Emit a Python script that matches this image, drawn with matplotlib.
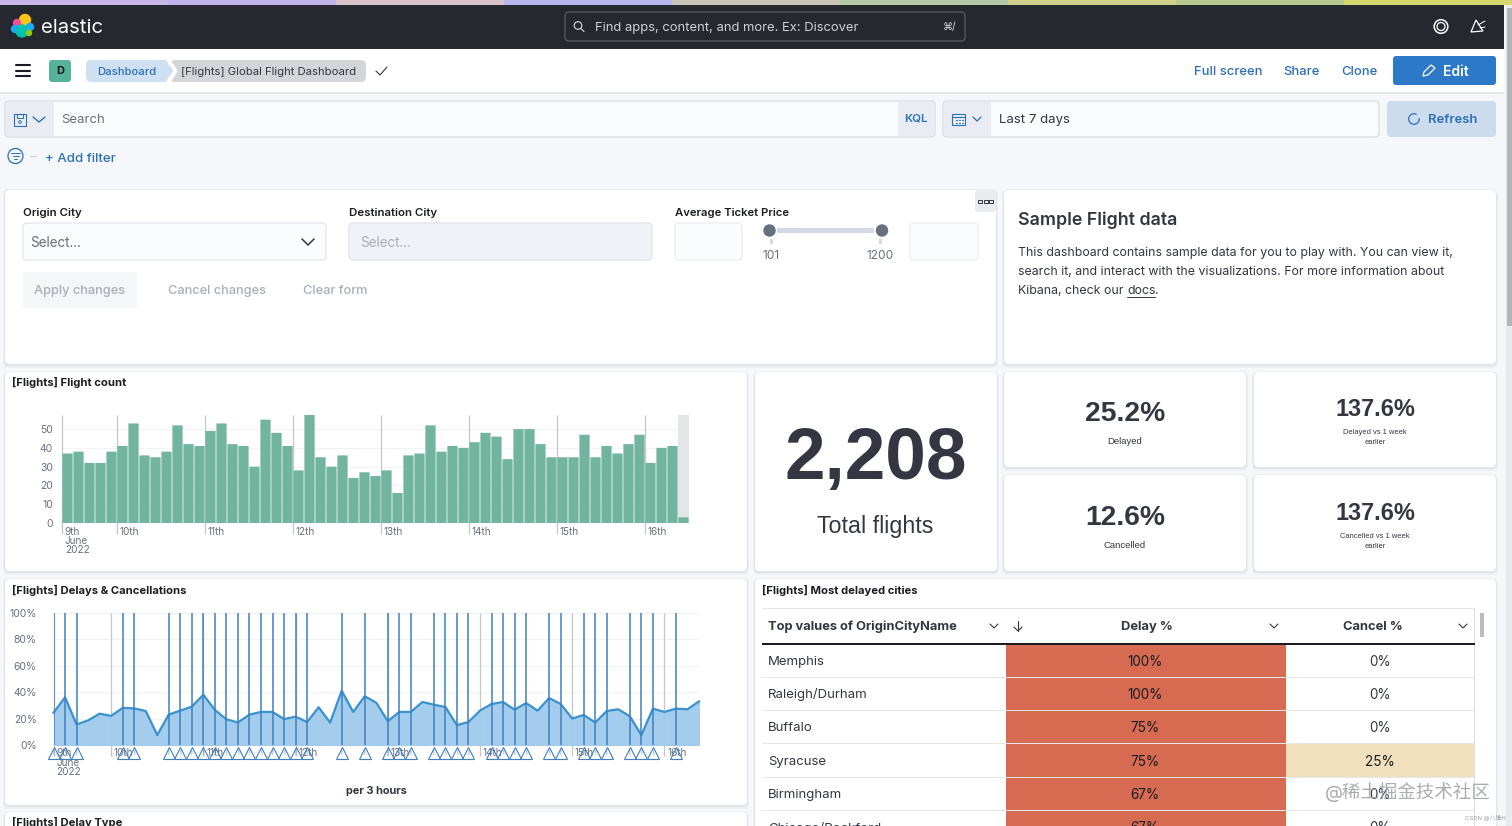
import matplotlib
matplotlib.use("Agg")
import matplotlib.pyplot as plt
from matplotlib.patches import FancyBboxPatch, Rectangle, Circle, Polygon, Arc

plt.rcParams['font.family'] = ['Inter', 'Noto Sans CJK SC', 'DejaVu Sans']

# flights per 3 hours
flight_counts = [37, 38, 32, 32, 38,
                 41, 53, 36, 35, 38, 52, 42, 41,
                 49, 53, 42, 41, 30, 55, 48, 41,
                 28, 58, 35, 30, 36, 24, 27, 25,
                 28, 16, 36, 37, 52, 38, 41, 40,
                 43, 48, 46, 34, 50, 50, 42, 35,
                 35, 35, 47, 35, 41, 37, 42, 47,
                 32, 40, 41, 3]
flight_ticks = [0, 10, 20, 30, 40, 50]

# delay percentage per 3 hours
delay_pct = [24.4, 36, 15.6, 18.6, 23.7, 22, 28, 27.7, 25.7, 7.5,
             23, 26, 29, 38, 26.5, 19.4, 17, 23, 25, 25,
             19.6, 21.4, 17.4, 28.5, 17, 41, 25, 36.8, 32, 18,
             25, 25, 32.5, 30.5, 28.7, 15, 17.4, 26, 31, 32.5,
             26.7, 31.7, 26, 35.5, 31, 20, 22.7, 17, 25.7, 27,
             21.7, 7.5, 27.5, 25, 27.5, 27, 33]
alert_idx = [0, 1, 2, 6, 7, 10, 11, 12, 13, 14, 15, 16, 17, 18, 19, 20, 21, 22,
             25, 27, 29, 30, 31, 33, 34, 35, 36, 38, 39, 40, 41, 43, 44, 46, 47,
             48, 50, 51, 52, 54]
pct_ticks = [0, 20, 40, 60, 80, 100]

day_idx = [0, 5, 13, 21, 29, 37, 45, 53]
day_labels = ['9th', '10th', '11th', '12th', '13th', '14th', '15th', '16th']

cities = ['Memphis', 'Raleigh/Durham', 'Buffalo', 'Syracuse', 'Birmingham', 'Chicago/Rockford']
city_delay = ['100%', '100%', '75%', '75%', '67%', '67%']
city_cancel = ['0%', '0%', '0%', '25%', '0%', '0%']

W, H = 1512, 826
BLUE = '#2C6FB5'
GREY = '#69707D'
DARK = '#343741'
HV = 'Liberation Sans'

fig = plt.figure(figsize=(W / 100, H / 100), dpi=100, facecolor='#F5F7FB')
page = fig.add_axes([0, 0, 1, 1])
page.set_xlim(0, W)
page.set_ylim(H, 0)
page.axis('off')


def t(x, y, s, size=13, color=DARK, weight='normal', ha='left', family=None, **kw):
    # size is given in pixels of the picture
    if family:
        kw['family'] = family
    elif size >= 11.3:
        y += 1  # Inter sits a little high with va=center
    return page.text(x, y, s, fontsize=size * 0.72, color=color, weight=weight,
                     ha=ha, va='center', **kw)


def rect(x0, y0, x1, y1, color, z=1, **kw):
    page.add_patch(Rectangle((x0, y0), x1 - x0, y1 - y0, facecolor=color, edgecolor='none', zorder=z, **kw))


def rbox(x0, y0, x1, y1, color, r=4, edge='none', z=1, lw=1):
    page.add_patch(FancyBboxPatch((x0 + r, y0 + r), x1 - x0 - 2 * r, y1 - y0 - 2 * r,
                                  boxstyle='round,pad=%d,rounding_size=%d' % (r, r),
                                  facecolor=color, edgecolor=edge, linewidth=lw, zorder=z))


def card(x0, y0, x1, y1):
    rbox(x0 - 2, y0 - 1, x1 + 2, y1 + 4, '#ECEEF2', r=6, z=1)
    rbox(x0 - 1, y0 + 1, x1 + 1, y1 + 2, '#E1E4E9', r=5, z=1)
    rbox(x0, y0, x1, y1, 'white', r=5, z=2)


def line(xs, ys, color=DARK, lw=1, z=5):
    page.plot(xs, ys, color=color, lw=lw, zorder=z, solid_capstyle='round')


# wallpaper strip, dark bar, white bar
strip = ['#C9B6E8', '#BFB2EA', '#D9C2C8', '#B8B4EE', '#C8C4B8', '#B4C8A8', '#CFD08A', '#B7C98E', '#D5D66E']
for i, c in enumerate(strip):
    rect(i * W / len(strip), 0, (i + 1) * W / len(strip), 5, c)
rect(0, 5, 1504, 49, '#25282F', z=2)
rect(0, 49, 1504, 92, 'white', z=2)
rect(0, 92, 1504, 94, '#E4E7EC', z=2)
rect(1506, 5, 1512, 826, '#E9EAEC', z=2)
rect(1507, 8, 1512, 326, '#B3B5B9', z=3)

# logo
for cx, cy, r, c in [(25, 20, 5.5, '#FEC514'), (17, 23, 3.5, '#F04E98'), (30, 27, 3.5, '#1BA9F5'),
                     (15, 29, 3.5, '#1BA9F5'), (22, 31, 6, '#00BFB3'), (29, 33, 2.5, '#93C90E')]:
    page.add_patch(Circle((cx, cy), r, color=c, zorder=4))
t(41, 27, 'elastic', 20.3, 'white', zorder=4)

# global search
rbox(565, 12, 965, 41, '#25282F', r=4, edge='#5E6269', z=3, lw=0.8)
page.add_patch(Circle((578, 25.5), 3.8, facecolor='none', edgecolor='#DDDDDD', lw=0.8, zorder=4))
line([581, 584], [28.5, 31.5], '#DDDDDD', 0.8)
t(595, 26.5, 'Find apps, content, and more. Ex: Discover', 13, '#CFD1D6', zorder=4)
t(943, 27, '⌘/', 10, '#DDDDDD', zorder=4)
page.add_patch(Circle((1441, 26.5), 6.8, facecolor='none', edgecolor='white', lw=1.1, zorder=4))
page.add_patch(Circle((1441, 26.5), 4, facecolor='none', edgecolor='white', lw=0.9, zorder=4))
page.add_patch(Polygon([(1471, 32), (1476, 20), (1483, 31)], closed=True, facecolor='none',
                       edgecolor='white', lw=0.9, zorder=4))
line([1478, 1485], [25, 21], 'white', 0.7)
line([1480, 1485], [28, 27], 'white', 0.7)

# breadcrumb row
for y in (65, 70.5, 76):
    line([16, 30], [y, y], '#1A1C21', 1.5)
rbox(49, 60, 71, 82, '#54B399', r=3, z=3)
t(60, 71, 'D', 11, '#111111', 'bold', ha='center', zorder=4)
rbox(86, 60, 168, 82, '#CFE0F2', r=5, z=3)
rbox(170, 60, 366, 82, '#D3D5D9', r=5, z=3)
page.add_patch(Polygon([(165, 60), (172, 71), (165, 82)], color='#CFE0F2', zorder=6))
page.add_patch(Polygon([(167, 60), (170, 60), (177, 71), (170, 82), (167, 82), (174, 71)], color='white', zorder=6))
t(97, 71, 'Dashboard', 11.3, BLUE, 'medium', zorder=7)
t(181, 71, '[Flights] Global Flight Dashboard', 11.3, DARK, zorder=7)
line([376, 380, 387], [71, 75, 67], DARK, 0.8)
t(1228, 71, 'Full screen', 13, BLUE, 'medium', ha='center', zorder=4)
t(1301.5, 71, 'Share', 13, BLUE, 'medium', ha='center', zorder=4)
t(1359.5, 71, 'Clone', 13, BLUE, 'medium', ha='center', zorder=4)
rbox(1393, 56, 1496, 85, '#2C7AC7', r=3, z=3)
page.add_patch(Polygon([(1423, 76), (1424, 72), (1431, 65), (1435, 68), (1428, 75)], closed=True, facecolor='none',
                       edgecolor='white', lw=0.9, zorder=4))
t(1455.5, 71, 'Edit', 14, 'white', 'semibold', ha='center', zorder=4)

# query bar
rbox(5, 101, 935, 137, '#FBFCFD', r=4, edge='#D9DEE6', z=2)
rect(6, 102, 54, 136, '#E9EDF3', z=3)
rect(898, 102, 934, 136, '#E9EDF3', z=3)
page.add_patch(Rectangle((14, 114), 12, 12, facecolor='none', edgecolor=BLUE, lw=0.8, zorder=4))
page.add_patch(Circle((20, 122), 1.3, facecolor='none', edgecolor=BLUE, lw=0.7, zorder=4))
line([17, 17, 23, 23], [114, 117.5, 117.5, 114], BLUE, 0.7)
line([33, 39, 45], [117, 122, 117], BLUE, 1)
t(61, 119, 'Search', 13.2, GREY, zorder=4)
t(916, 118, 'KQL', 11.5, BLUE, 'semibold', ha='center', zorder=4)
rbox(943, 101, 1379, 137, '#FBFCFD', r=4, edge='#D9DEE6', z=2)
rect(944, 102, 991, 136, '#E9EDF3', z=3)
page.add_patch(Rectangle((952, 114), 13, 11, facecolor='none', edgecolor=BLUE, lw=0.8, zorder=4))
line([952, 965], [117, 117], BLUE, 0.8)
for x in (955.5, 958.5, 961.5):
    line([x, x + 1.5], [120, 120], BLUE, 0.8)
    line([x, x + 1.5], [122.5, 122.5], BLUE, 0.8)
line([973, 977, 981], [117, 121, 117], BLUE, 0.9)
t(999, 119, 'Last 7 days', 13.2, DARK, zorder=4)
rbox(1387, 101, 1496, 137, '#CCDCEE', r=4, z=3)
page.add_patch(Arc((1414, 119), 10.5, 10.5, theta1=-10, theta2=300, edgecolor=BLUE, lw=0.9, zorder=4))
t(1452.5, 119, 'Refresh', 13, BLUE, 'semibold', ha='center', zorder=4)
page.add_patch(Circle((15.5, 156), 7.5, facecolor='none', edgecolor=BLUE, lw=0.9, zorder=4))
for y, hw in ((153, 4.5), (156, 3), (159, 1.5)):
    line([15.5 - hw, 15.5 + hw], [y, y], BLUE, 0.7)
line([30, 36], [155.5, 155.5], '#D3DAE6', 1)
t(45, 158, '+ Add filter', 13.2, BLUE, 'medium', zorder=4)

# controls card
card(5, 190, 996, 364)
t(23, 212, 'Origin City', 11.5, '#1A1C21', 'semibold', zorder=4)
rbox(23, 223, 326, 260, '#FBFCFD', r=4, edge='#E6E9EF', z=3)
t(30, 242, 'Select...', 13.5, GREY, zorder=4)
line([302, 308, 314], [239, 245, 239], DARK, 1.1)
t(349, 212, 'Destination City', 11.5, '#1A1C21', 'semibold', zorder=4)
rbox(349, 223, 652, 260, '#EFF2F6', r=4, edge='#E1E5EB', z=3)
t(360, 242, 'Select...', 13.5, '#A9AEB8', zorder=4)
t(675, 212, 'Average Ticket Price', 11.3, '#1A1C21', 'semibold', zorder=4)
rbox(675, 223, 742, 260, '#FBFCFD', r=4, edge='#EDEFF3', z=3)
rbox(910, 223, 978, 260, '#FBFCFD', r=4, edge='#EDEFF3', z=3)
rect(777, 228, 874, 233, '#D3DAE6', z=3)
page.add_patch(Circle((769.5, 230.5), 5.5, color='#69707D', zorder=4))
page.add_patch(Circle((882, 230.5), 5.5, color='#69707D', zorder=4))
rect(770, 239, 773, 244, '#D3DAE6', z=3)
rect(879, 239, 882, 244, '#D3DAE6', z=3)
t(771, 255, '101', 12, GREY, ha='center', zorder=4)
t(880.5, 255, '1200', 12, GREY, ha='center', zorder=4)
rbox(975, 190, 996, 212, '#E9EBEF', r=3, z=3)
for x in (980, 985.5, 991):
    page.add_patch(Rectangle((x - 2, 199.5), 4, 3.5, facecolor='none', edgecolor=DARK, lw=0.7, zorder=4))
rbox(23, 272, 137, 308, '#F5F6F8', r=3, z=3)
t(80, 290, 'Apply changes', 12.8, '#A9AEB8', 'medium', ha='center', zorder=4)
t(216.5, 290, 'Cancel changes', 12.8, '#A9AEB8', 'medium', ha='center', zorder=4)
t(335.5, 290, 'Clear form', 12.8, '#A9AEB8', 'medium', ha='center', zorder=4)

# markdown card
card(1004, 190, 1496, 364)
t(1018, 219, 'Sample Flight data', 17.8, DARK, 'semibold', zorder=4)
t(1018, 252, 'This dashboard contains sample data for you to play with. You can view it,', 12.35, DARK, zorder=4)
t(1018, 271, 'search it, and interact with the visualizations. For more information about', 12.35, DARK, zorder=4)
t(1018, 290, 'Kibana, check our', 12.35, DARK, zorder=4)
t(1127, 290, 'docs', 12.35, DARK, zorder=4)
line([1127, 1155], [296.5, 296.5], DARK, 0.7)
t(1155, 290, '.', 12.35, DARK, zorder=4)

# metric cards
card(755, 372, 997, 571)
card(1004, 372, 1246, 467)
card(1254, 372, 1496, 467)
card(1004, 475, 1246, 571)
card(1254, 475, 1496, 571)
t(875.5, 460, '2,208', 73, DARK, 'bold', ha='center', family=HV, zorder=4)
t(875.5, 527, 'Total flights', 23.3, DARK, ha='center', family=HV, zorder=4)
t(1125, 414, '25.2%', 28.3, DARK, 'bold', ha='center', family=HV, zorder=4)
t(1125, 441, 'Delayed', 9.5, DARK, ha='center', family=HV, zorder=4)
t(1375, 410, '137.6%', 23.5, DARK, 'bold', ha='center', family=HV, zorder=4)
t(1375, 432, 'Delayed vs 1 week', 7.5, DARK, ha='center', family=HV, zorder=4)
t(1375, 443, 'earlier', 7.5, DARK, ha='center', family=HV, zorder=4)
t(1125, 518, '12.6%', 28.3, DARK, 'bold', ha='center', family=HV, zorder=4)
t(1125, 545, 'Cancelled', 9.5, DARK, ha='center', family=HV, zorder=4)
t(1375, 514, '137.6%', 23.5, DARK, 'bold', ha='center', family=HV, zorder=4)
t(1375, 536, 'Cancelled vs 1 week', 7.5, DARK, ha='center', family=HV, zorder=4)
t(1375, 547, 'earlier', 7.5, DARK, ha='center', family=HV, zorder=4)

# chart cards
card(5, 372, 747, 571)
card(5, 579, 747, 805)
card(5, 812, 747, 840)
card(755, 579, 1496, 840)
t(12, 382, '[Flights] Flight count', 11.2, '#1A1C21', 'bold', zorder=4)
t(12, 590, '[Flights] Delays & Cancellations', 11.2, '#1A1C21', 'bold', zorder=4)
t(12, 822, '[Flights] Delay Type', 11.2, '#1A1C21', 'bold', zorder=4)
t(762, 590, '[Flights] Most delayed cities', 11.2, '#1A1C21', 'bold', zorder=4)
t(376, 791, 'per 3 hours', 11, DARK, 'bold', ha='center', zorder=4)


def chart_axes(x0, y0, x1, y1):
    ax = fig.add_axes([x0 / W, 1 - y1 / H, (x1 - x0) / W, (y1 - y0) / H])
    ax.patch.set_alpha(0)
    for s in ax.spines.values():
        s.set_visible(False)
    ax.tick_params(axis='y', length=0, labelsize=7.5, labelcolor=GREY, pad=6.5)
    ax.tick_params(axis='x', length=0, labelbottom=False)
    ax.set_axisbelow(True)
    ax.grid(axis='y', color='#F1F2F4', lw=0.8)
    return ax


def day_axis(ax, vline_end):
    ax.vlines(day_idx, vline_end, 1, transform=ax.get_xaxis_transform(), color='#C4C6CA', lw=0.9,
              clip_on=False, zorder=1)


def day_labels_under(ax, offsets):
    for i, lab in zip(day_idx, day_labels):
        ax.annotate(lab, xy=(i, 0), xycoords=('data', 'axes fraction'), xytext=(2, offsets[0]),
                    textcoords='offset points', fontsize=7.2, color=GREY, ha='left', va='center', zorder=5)
    ax.annotate('June', xy=(0, 0), xycoords=('data', 'axes fraction'), xytext=(2, offsets[1]),
                textcoords='offset points', fontsize=7.2, color=GREY, ha='left', va='center')
    ax.annotate('2022', xy=(0, 0), xycoords=('data', 'axes fraction'), xytext=(2, offsets[2]),
                textcoords='offset points', fontsize=7.2, color=GREY, ha='left', va='center')


# flight count histogram, one slot is 11 px
bar_x = list(range(len(flight_counts)))
ax1 = chart_axes(62, 415, 689, 523)
ax1.set_xlim(0, len(flight_counts))
ax1.set_ylim(0, 57.5)
ax1.set_yticks(flight_ticks)
ax1.bar(bar_x[-1] + 0.5, 57.5, width=1, color='#E4E5E6', zorder=1)
bars = ax1.bar([i + 0.5 for i in bar_x], flight_counts, width=0.93, color='#6DB39B', zorder=2, alpha=0.97)
for b in bars:
    b.set_snap(False)
day_axis(ax1, -0.10)
day_labels_under(ax1, (-6.4, -12.8, -19.4))

# delays area with alert lines, one step is 11.5 px
line_x = list(range(len(delay_pct)))
ax2 = chart_axes(53.5, 612.7, 699, 745)
ax2.set_xlim(0, len(delay_pct) - 1)
ax2.set_ylim(0, 100)
ax2.set_yticks(pct_ticks)
ax2.set_yticklabels(['%d%%' % v for v in pct_ticks])
ax2.tick_params(axis='y', pad=12)
ax2.fill_between(line_x, delay_pct, 0, color='#9FCBEC', zorder=2, alpha=0.95)
ax2.plot(line_x, delay_pct, color='#3A92CE', lw=1.6, zorder=3, clip_on=False)
day_axis(ax2, -0.085)
ax2.vlines(alert_idx, 0, 1, color='#3F7FC0', lw=1.1, zorder=4, transform=ax2.get_xaxis_transform())
day_labels_under(ax2, (-5.8, -13, -19.6))
ax2.plot(alert_idx, [-0.062] * len(alert_idx), transform=ax2.get_xaxis_transform(), linestyle='none', marker='^',
         markersize=8.5, markerfacecolor='none', markeredgecolor='#3F7FC0', markeredgewidth=0.8,
         clip_on=False, zorder=6)
for i in alert_idx:
    ax2.annotate('!', xy=(i, 0), xycoords=('data', 'axes fraction'), xytext=(0, -6), textcoords='offset points',
                 fontsize=4.5, color='#3F7FC0', ha='center', va='center', zorder=6)

# delayed cities table
rect(762, 608, 1474, 609, '#E3E6EB', z=3)
rect(762, 642.5, 1474.5, 644.5, '#1A1C21', z=5)
rect(1474, 608, 1475, 826, '#DDE0E5', z=3)
t(768, 626, 'Top values of OriginCityName', 12.9, DARK, 'bold', zorder=4)
line([990, 994, 998], [624, 628, 624], DARK, 0.8)
line([1018, 1018], [621, 631], DARK, 0.8)
line([1014, 1018, 1022], [627, 631, 627], DARK, 0.8)
t(1147, 626, 'Delay %', 12.9, DARK, 'bold', ha='center', zorder=4)
line([1270, 1274, 1278], [624, 628, 624], DARK, 0.8)
t(1372.5, 626, 'Cancel %', 12.9, DARK, 'bold', ha='center', zorder=4)
line([1459, 1463, 1467], [624, 628, 624], DARK, 0.8)
rect(1480, 613, 1484, 637, '#B9BBC0', z=4)

row_h = 33.3
for i, (city, d, c) in enumerate(zip(cities, city_delay, city_cancel)):
    y0 = 644 + i * row_h
    rect(1006, y0, 1285.5, y0 + row_h, '#D76B52', z=3)
    if c == '25%':
        rect(1285.5, y0, 1474, y0 + row_h, '#F1DFBD', z=3)
    rect(762, y0 + row_h - 0.5, 1474, y0 + row_h + 0.5, '#E3E6EB', z=4)
    cy = y0 + row_h / 2
    t(768, cy, city, 13.2, DARK, zorder=5)
    t(1145, cy, d, 13.5, '#1A1C21', ha='center', zorder=5)
    t(1380, cy, c, 13.5, DARK if c == '0%' else '#1A1C21', ha='center', zorder=5)

# watermark
t(1408, 791, '@稀土掘金技术社区', 18.5, '#9A9DA3', ha='center', alpha=0.85, zorder=8)
t(1485, 818, 'CSDN @八维H', 6, '#9A9DA3', ha='center', zorder=8)

fig.savefig('out.png', dpi=100, facecolor=fig.get_facecolor())
